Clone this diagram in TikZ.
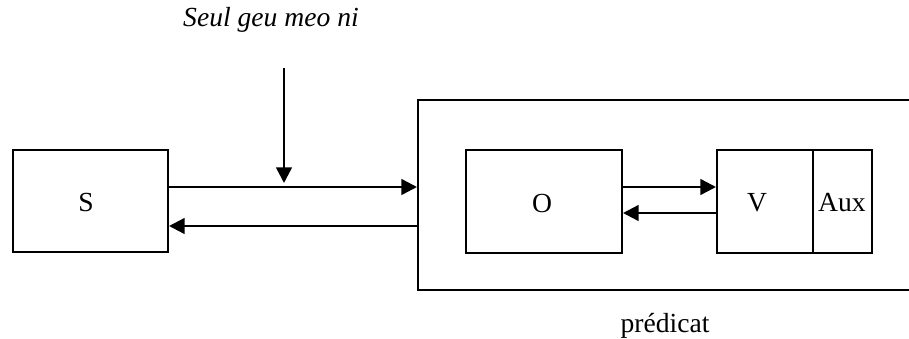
\documentclass[tikz,border=0pt]{standalone}
\usepackage{fontspec}
\setmainfont{Liberation Serif}
\usetikzlibrary{arrows.meta}
\begin{document}
\begin{tikzpicture}[x=0.5pt,y=-0.5pt,
  every node/.style={font=\fontsize{13.8}{16}\selectfont},
  boxed/.style={draw,line width=1pt,inner sep=0pt,anchor=north west},
  conn/.style={line width=1.2pt,-{Triangle[length=7.8pt,width=7.8pt]}}]
\useasboundingbox (0,0) rectangle (909,338);
\clip (0,0) rectangle (909,338);
% boxes
\node[boxed,minimum width=77.5pt,minimum height=51pt] (S) at (12,149) {};
\node[boxed,minimum width=250pt,minimum height=95pt] (P) at (417,99) {};
\node[boxed,minimum width=78pt,minimum height=51.5pt] (O) at (465,149) {};
\node[boxed,minimum width=48pt,minimum height=51.5pt] (V) at (716,149) {};
\node[boxed,minimum width=29.5pt,minimum height=51.5pt] (A) at (812,149) {};
% labels
\node at (86,202) {S};
\node at (542,203) {O};
\node at (757,203) {V};
\node at (842,203) {Aux};
\node[font=\fontsize{13.8}{16}\selectfont\itshape,anchor=base] (T) at (271,26) {Seul geu meo ni};
\node[anchor=base] (L) at (665,332) {prédicat};
% connectors
\coordinate (top) at (284,68);
\coordinate (tip) at (284,183);
\draw[conn] (top) -- (tip);
\draw[conn] (S.east |- 0,187) -- (P.west |- 0,187);
\draw[conn] (P.west |- 0,226) -- (S.east |- 0,226);
\draw[conn] (O.east |- 0,187) -- (V.west |- 0,187);
\draw[conn] (V.west |- 0,213) -- (O.east |- 0,213);
\end{tikzpicture}
\end{document}
